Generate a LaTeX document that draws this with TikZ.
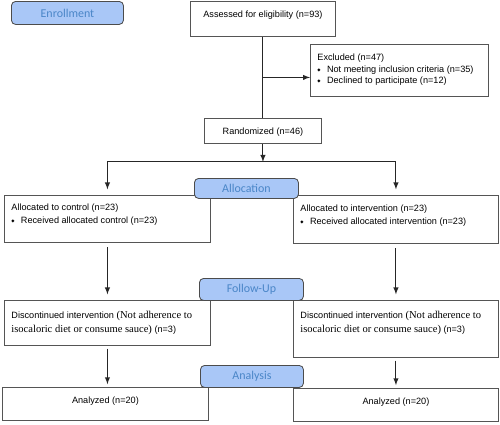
\documentclass[tikz,border=0pt]{standalone}
\usepackage{fontspec}
\setmainfont{Liberation Sans}
\newfontfamily\labelfont{Carlito}
\newfontfamily\seriffont{Liberation Serif}
\newfontfamily\symfont{DejaVu Sans}
\usetikzlibrary{positioning}
\definecolor{phasefill}{RGB}{169,199,247}
\definecolor{phasetext}{RGB}{74,134,200}
\definecolor{boxline}{RGB}{85,85,85}
% top aligned text in a box of fixed size
\newcommand{\cellt}[4]{\parbox[c][#2][t]{#1}{\vspace*{#3}#4}}
\newcommand{\dmd}{\raisebox{0.6pt}{\symfont\fontsize{3}{3}\selectfont ◆}\hspace{4.5pt}}
\newcommand{\whynot}{{\seriffont\fontsize{7.5}{10}\selectfont}}

\begin{document}
\begin{tikzpicture}[x=0.025cm,y=-0.025cm,>=latex,
  font=\fontsize{6.5}{9.25}\selectfont,
  box/.style={draw=boxline,line width=0.6pt,anchor=north west,inner xsep=0.175cm,inner ysep=0pt},
  phase/.style={draw=black!70,line width=0.6pt,fill=phasefill,rounded corners=3pt,anchor=north west,
    inner sep=0pt,text=phasetext,font=\labelfont\fontsize{8.5}{10}\selectfont},
  line/.style={draw=black!85,line width=0.7pt}]
\useasboundingbox (0,0) rectangle (500,424);

% boxes
\node[box](assess)at(190,1){\cellt{3.275cm}{0.875cm}{6.75pt}{\centering Assessed for eligibility (n=93)}};
\node[box](excl)at(310,44){\cellt{4.1cm}{1.3cm}{6.75pt}{\fontsize{6.5}{8.2}\selectfont
  Excluded (n=47)\\ \dmd Not meeting inclusion criteria (n=35)\\ \dmd Declined to participate (n=12)}};
\node[box](rand)at(204,118){\cellt{2.575cm}{0.625cm}{6.75pt}{\centering Randomized (n=46)}};
\node[box](ctrl)at(4,195){\cellt{4.8cm}{1.175cm}{6pt}{Allocated to control (n=23)\\ \dmd Received allocated control (n=23)}};
\node[box](intv)at(293,195){\cellt{4.775cm}{1.2cm}{6.75pt}{Allocated to intervention (n=23)\\ \dmd Received allocated intervention (n=23)}};
\node[box](discL)at(4,300){\cellt{4.8cm}{1.125cm}{7.5pt}{\fontsize{6.5}{10}\selectfont
  Discontinued intervention {\seriffont\fontsize{7.5}{10}\selectfont (Not adherence to}\\
  {\seriffont\fontsize{7.5}{10}\selectfont isocaloric diet or consume sauce)} (n=3)}};
\node[box](discR)at(293,300){\cellt{4.775cm}{1.425cm}{7.5pt}{\fontsize{6.5}{10}\selectfont
  Discontinued intervention {\seriffont\fontsize{7.5}{10}\selectfont (Not adherence to}\\
  {\seriffont\fontsize{7.5}{10}\selectfont isocaloric diet or consume sauce)} (n=3)}};
\node[box](anL)at(2,387){\cellt{4.8cm}{0.825cm}{6.75pt}{\centering Analyzed (n=20)}};
\node[box](anR)at(293,388){\cellt{4.775cm}{0.825cm}{6.75pt}{\centering Analyzed (n=20)}};

% connectors
\coordinate(exclin)at([yshift=-0.175cm]excl.west);
\coordinate(split)at([yshift=-0.45cm]rand.south);
\draw[line](assess.south)--(assess.south |- rand.north);
\draw[line,->](assess.south |- exclin)--(exclin);
\draw[line,->](rand.south)--(split);
\draw[line](split -| ctrl.north)--(split -| intv.north);
\draw[line,->,shorten >=4pt](split -| ctrl.north)--(ctrl.north);
\draw[line,->,shorten >=4pt](split -| intv.north)--(intv.north);
\draw[line,->,shorten <=3pt,shorten >=4pt](ctrl.south)--(discL.north);
\draw[line,->,shorten <=3pt,shorten >=4pt](intv.south)--(discR.north);
\draw[line,->,shorten <=2pt,shorten >=2pt](discL.south)--(discL.south |- anL.north);
\draw[line,->,shorten <=2pt,shorten >=2pt](discR.south)--(discR.south |- anR.north);

% phase labels
\node[phase,minimum width=2.8cm,minimum height=0.575cm](enroll)at(11,1){Enrollment};
\node[phase,minimum width=2.6cm,minimum height=0.5cm](alloc)at(194,178){Allocation};
\node[phase,minimum width=2.6cm,minimum height=0.55cm](fup)at(199,278){Follow-Up};
\node[phase,minimum width=2.575cm,minimum height=0.55cm](anal)at(200,365){Analysis};
\end{tikzpicture}
\end{document}
